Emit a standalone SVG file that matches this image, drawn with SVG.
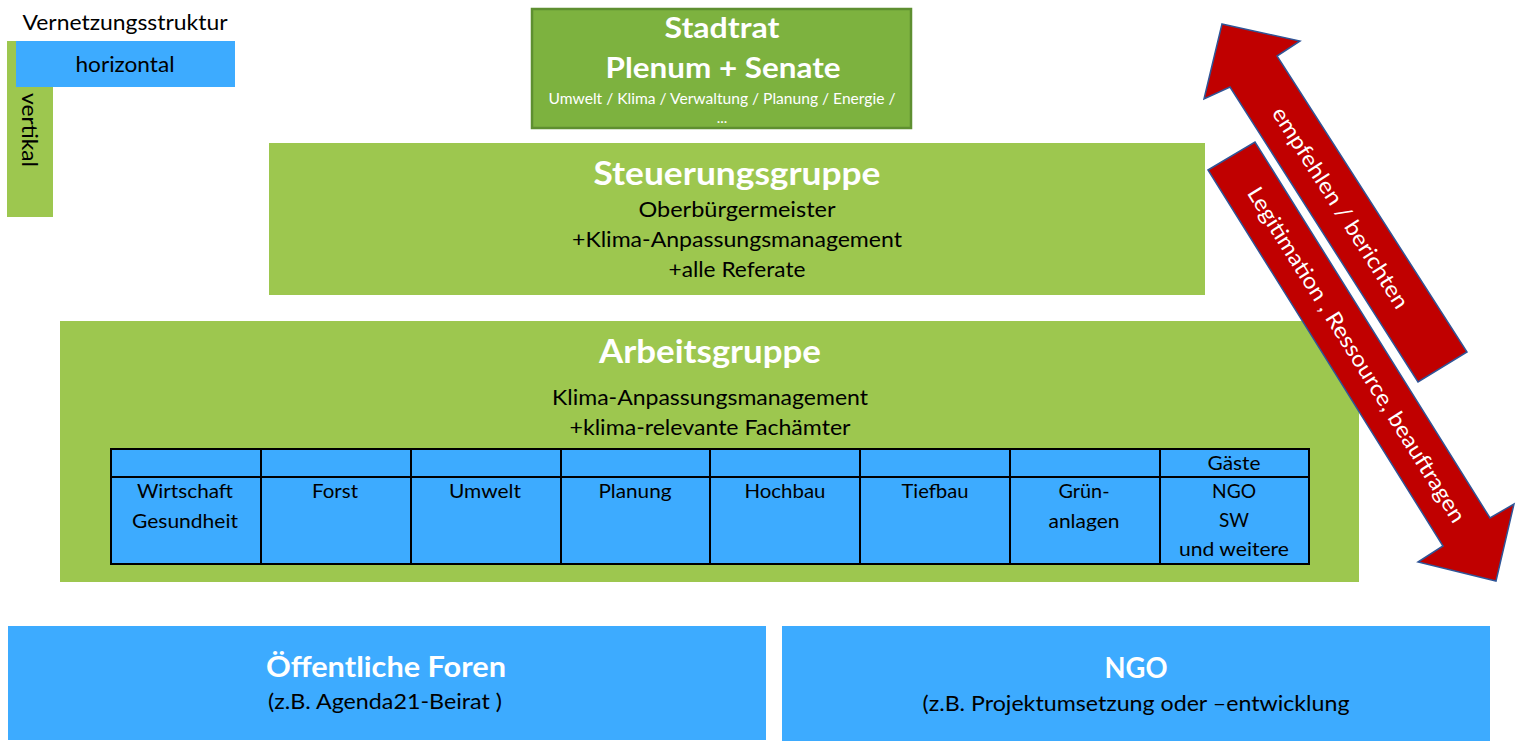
<svg xmlns="http://www.w3.org/2000/svg" width="1516" height="742" viewBox="0 0 1516 742">
<style>
text{font-family:Lato,"Open Sans","Liberation Sans",sans-serif;}
.w{fill:#ffffff;}
.k{fill:#000000;}
.b{font-weight:bold;}
.c{text-anchor:middle;}
.blue{fill:#3DABFF;}
.green{fill:#9DC74F;}
.grid{stroke:#000000;stroke-width:2;fill:none;}
.arrow{fill:#C00000;stroke:#2F5597;stroke-width:1.5;stroke-linejoin:miter;}
</style>
<rect width="1516" height="742" fill="#ffffff"/>

<g id="legend">
<text class="k c" x="125" y="30" font-size="21" textLength="205" lengthAdjust="spacingAndGlyphs">Vernetzungsstruktur</text>
<rect class="green" x="7" y="41" width="46" height="176"/>
<rect class="blue" x="16" y="41" width="219" height="46"/>
<text class="k c" x="125" y="72" font-size="21" textLength="99" lengthAdjust="spacingAndGlyphs">horizontal</text>
<text class="k c" font-size="21" transform="translate(22,130) rotate(90)" textLength="74" lengthAdjust="spacingAndGlyphs">vertikal</text>
</g>

<g id="stadtrat">
<rect x="532" y="9" width="379" height="119" fill="#7DB23F" stroke="#5E8F30" stroke-width="2.5"/>
<text class="w b c" x="722" y="38" font-size="29" textLength="115" lengthAdjust="spacingAndGlyphs">Stadtrat</text>
<text class="w b c" x="723" y="78" font-size="29" textLength="235" lengthAdjust="spacingAndGlyphs">Plenum + Senate</text>
<text class="w c" x="722" y="104" font-size="15" textLength="347" lengthAdjust="spacingAndGlyphs">Umwelt / Klima / Verwaltung / Planung / Energie /</text>
<text class="w c" x="722" y="123" font-size="15">...</text>
</g>

<g id="steuerungsgruppe">
<rect class="green" x="269" y="143" width="936" height="152"/>
<text class="w b c" x="737" y="185" font-size="33" textLength="287" lengthAdjust="spacingAndGlyphs">Steuerungsgruppe</text>
<text class="k c" x="737" y="217" font-size="21" textLength="197" lengthAdjust="spacingAndGlyphs">Oberbürgermeister</text>
<text class="k c" x="737" y="247" font-size="21" textLength="330" lengthAdjust="spacingAndGlyphs">+Klima-Anpassungsmanagement</text>
<text class="k c" x="737" y="277" font-size="21" textLength="137" lengthAdjust="spacingAndGlyphs">+alle Referate</text>
</g>

<g id="arbeitsgruppe">
<rect class="green" x="60" y="321" width="1299" height="261"/>
<text class="w b c" x="710" y="363" font-size="33" textLength="222" lengthAdjust="spacingAndGlyphs">Arbeitsgruppe</text>
<text class="k c" x="710" y="405" font-size="21" textLength="316" lengthAdjust="spacingAndGlyphs">Klima-Anpassungsmanagement</text>
<text class="k c" x="710" y="435" font-size="21" textLength="281" lengthAdjust="spacingAndGlyphs">+klima-relevante Fachämter</text>
</g>

<g id="fachaemter">
<rect class="blue" x="111" y="449" width="1198" height="115"/>
<rect class="grid" x="111" y="449" width="1198" height="115"/>
<line class="grid" x1="111" y1="477" x2="1309" y2="477"/>
<line class="grid" x1="261" y1="449" x2="261" y2="564"/>
<line class="grid" x1="411" y1="449" x2="411" y2="564"/>
<line class="grid" x1="561" y1="449" x2="561" y2="564"/>
<line class="grid" x1="710" y1="449" x2="710" y2="564"/>
<line class="grid" x1="860" y1="449" x2="860" y2="564"/>
<line class="grid" x1="1010" y1="449" x2="1010" y2="564"/>
<line class="grid" x1="1160" y1="449" x2="1160" y2="564"/>
<g font-size="19" class="k">
<text class="c" x="185" y="498" textLength="96" lengthAdjust="spacingAndGlyphs">Wirtschaft</text>
<text class="c" x="185" y="528" textLength="106" lengthAdjust="spacingAndGlyphs">Gesundheit</text>
<text class="c" x="335" y="498" textLength="46" lengthAdjust="spacingAndGlyphs">Forst</text>
<text class="c" x="485" y="498" textLength="72" lengthAdjust="spacingAndGlyphs">Umwelt</text>
<text class="c" x="635" y="498" textLength="73" lengthAdjust="spacingAndGlyphs">Planung</text>
<text class="c" x="785" y="498" textLength="81" lengthAdjust="spacingAndGlyphs">Hochbau</text>
<text class="c" x="935" y="498" textLength="67" lengthAdjust="spacingAndGlyphs">Tiefbau</text>
<text class="c" x="1084" y="498" textLength="51" lengthAdjust="spacingAndGlyphs">Grün-</text>
<text class="c" x="1084" y="528" textLength="71" lengthAdjust="spacingAndGlyphs">anlagen</text>
<text class="c" x="1234" y="470" textLength="53" lengthAdjust="spacingAndGlyphs">Gäste</text>
<text class="c" x="1234" y="498" textLength="44" lengthAdjust="spacingAndGlyphs">NGO</text>
<text class="c" x="1234" y="527" textLength="30" lengthAdjust="spacingAndGlyphs">SW</text>
<text class="c" x="1234" y="556" textLength="110" lengthAdjust="spacingAndGlyphs">und weitere</text>
</g>
</g>

<g id="foren">
<rect class="blue" x="8" y="626" width="758" height="114"/>
<text class="w b c" x="386" y="677" font-size="28" textLength="240" lengthAdjust="spacingAndGlyphs">Öffentliche Foren</text>
<text class="k c" x="385" y="709" font-size="21" textLength="234" lengthAdjust="spacingAndGlyphs">(z.B. Agenda21-Beirat )</text>
</g>

<g id="ngo">
<rect class="blue" x="782" y="626" width="708" height="115"/>
<text class="w b c" x="1136" y="678" font-size="28" textLength="63" lengthAdjust="spacingAndGlyphs">NGO</text>
<text class="k c" x="1136" y="711" font-size="21" textLength="427" lengthAdjust="spacingAndGlyphs">(z.B. Projektumsetzung oder –entwicklung</text>
</g>

<g id="connectors">
<polygon class="arrow" points="1222,24 1300,41 1277,56 1467,352 1418,382 1230,87 1204,99"/>
<text class="w c" font-size="22" transform="translate(1340,208) rotate(57.5)" dy="7" textLength="234" lengthAdjust="spacingAndGlyphs">empfehlen / berichten</text>
<polygon class="arrow" points="1208,170 1255,142 1490,518 1514,504 1496,581 1418,562 1443,546"/>
<text class="w c" font-size="22" transform="translate(1356,355) rotate(58)" dy="7" textLength="391" lengthAdjust="spacingAndGlyphs">Legitimation , Ressource, beauftragen</text>
</g>
</svg>
